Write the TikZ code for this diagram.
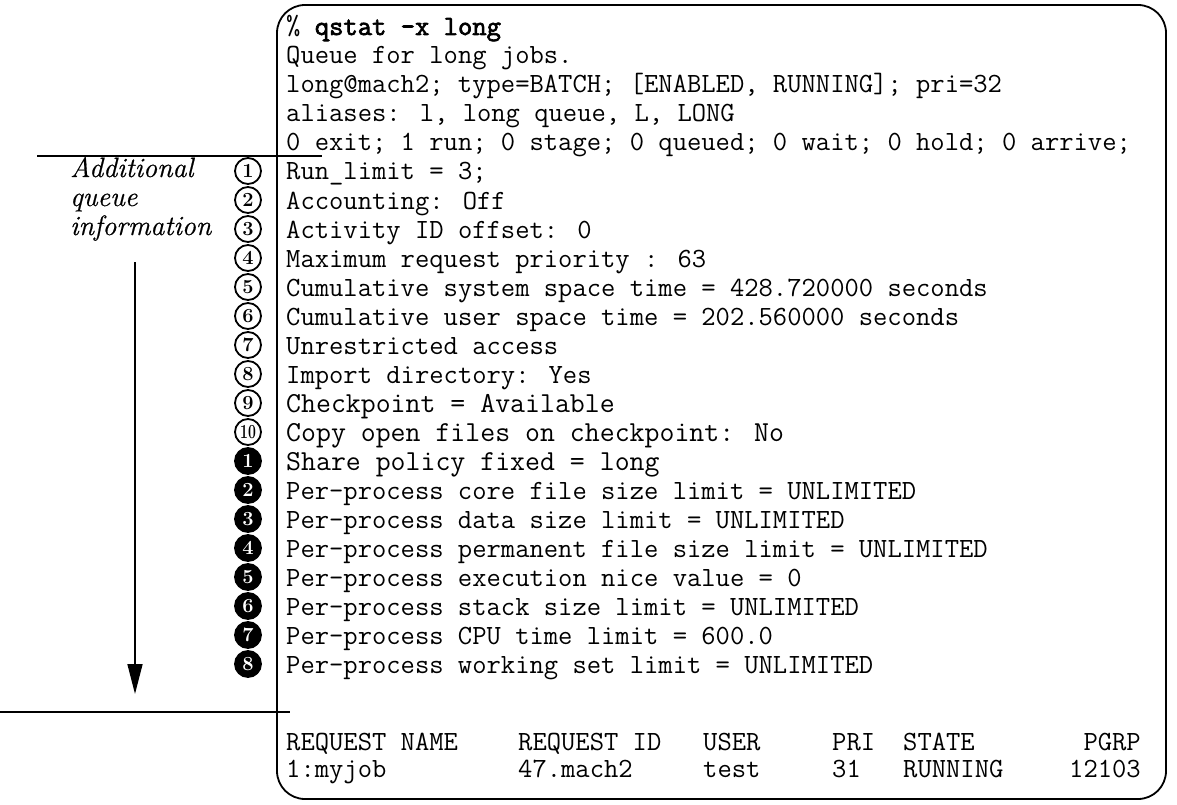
\documentclass[tikz,border=0pt]{standalone}
\usepackage{fontspec}
\usepackage{graphicx}
\newfontfamily\ttheavy{Latin Modern Mono}[FakeBold=2.5]
\newfontfamily\lblfont{Latin Modern Roman}[ItalicFeatures={FakeBold=0.6}]
\usetikzlibrary{arrows.meta}

\begin{document}
\begin{tikzpicture}[x=1pt,y=-1pt,
  code/.style={anchor=base west, inner sep=0pt, font=\ttfamily\fontsize{27.8}{30}\selectfont},
  bigcode/.style={code, font=\ttfamily\fontsize{29}{31}\selectfont},
  numo/.style={circle, draw, line width=1.8pt, minimum size=26pt, inner sep=0pt,
               font=\bfseries\fontsize{20}{20}\selectfont},
  numf/.style={numo, fill=black, text=white},
  lbl/.style={anchor=base west, inner sep=0pt, font=\lblfont\itshape\fontsize{28}{28}\selectfont},
  rule/.style={line width=2.4pt},
  frame/.style={draw, line width=1.8pt, rounded corners=28pt}
]
\useasboundingbox (0,0) rectangle (1177,805);

% terminal frame
\draw[frame] (277,5) rectangle (1166,799);

% qstat output
\node[code] (l1)  at (286,35)  {\% {\ttheavy qstat -x long}};
\node[code] (l2)  at (286,64)  {Queue for long jobs.};
\node[code] (l3)  at (286,93)  {long@mach2; type=BATCH; [ENABLED, RUNNING]; pri=32};
\node[code] (l4)  at (286,122) {aliases: l, long queue, L, LONG};
\node[code] (l5)  at (286,151) {0 exit; 1 run; 0 stage; 0 queued; 0 wait; 0 hold; 0 arrive;};
\node[code] (l6)  at (286,180) {Run\_limit = 3;};
\node[code] (l7)  at (286,209) {Accounting: Off};
\node[code] (l8)  at (286,238) {Activity ID offset: 0};
\node[code] (l9)  at (286,267) {Maximum request priority : 63};
\node[code] (l10) at (286,296) {Cumulative system space time = 428.720000 seconds};
\node[code] (l11) at (286,325) {Cumulative user space time = 202.560000 seconds};
\node[code] (l12) at (286,354) {Unrestricted access};
\node[code] (l13) at (286,383) {Import directory: Yes};
\node[bigcode] (l14) at (286,412) {Checkpoint = Available};
\node[bigcode] (l15) at (286,441) {Copy open files on checkpoint: No};
\node[bigcode] (l16) at (286,470) {Share policy fixed = long};
\node[code] (l17) at (286,499) {Per-process core file size limit = UNLIMITED};
\node[code] (l18) at (286,528) {Per-process data size limit = UNLIMITED};
\node[code] (l19) at (286,557) {Per-process permanent file size limit = UNLIMITED};
\node[code] (l20) at (286,586) {Per-process execution nice value = 0};
\node[code] (l21) at (286,615) {Per-process stack size limit = UNLIMITED};
\node[code] (l22) at (286,644) {Per-process CPU time limit = 600.0};
\node[code] (l23) at (286,673) {Per-process working set limit = UNLIMITED};

% request table
\node[code] (h1) at (286,750) {REQUEST NAME};
\node[code] (h2) at (518,750) {REQUEST ID};
\node[code] (h3) at (703,750) {USER};
\node[code] (h4) at (832,750) {PRI};
\node[code] (h5) at (903,750) {STATE};
\node[code, anchor=base east] (h6) at (1141,750) {PGRP};
\node[code] (r1) at (286,777) {1:myjob};
\node[code] (r2) at (518,777) {47.mach2};
\node[code] (r3) at (703,777) {test};
\node[code] (r4) at (832,777) {31};
\node[code] (r5) at (903,777) {RUNNING};
\node[code, anchor=base east] (r6) at (1141,777) {12103};

% circled item numbers
\foreach \i in {1,...,9}
  \node[numo] (o\i) at (248,{180+29*(\i-1)-9}) {\i};
\node[numo] (o10) at (248,{180+29*9-9}) {\scalebox{0.7}[1]{10}};
\foreach \i in {1,...,8}
  \node[numf] (f\i) at (248,{470+29*(\i-1)-9}) {\i};

% side label
\node[lbl] (t1) at (70,177) {Additional};
\node[lbl] (t2) at (70,206) {queue};
\node[lbl] (t3) at (70,235) {information};

% section rules and arrow
\coordinate (ruleAa) at (37,156);
\coordinate (ruleAb) at (322,156);
\coordinate (ruleBa) at (0,712);
\coordinate (ruleBb) at (290,712);
\draw[rule] (ruleAa) -- (ruleAb);
\draw[rule] (ruleBa) -- (ruleBb);
\coordinate (arrTop) at (135,262);
\coordinate (arrTip) at (135,694);
\draw[line width=1.6pt, -{Triangle[length=30pt,width=15pt]}] (arrTop) -- (arrTip);
\end{tikzpicture}
\end{document}
